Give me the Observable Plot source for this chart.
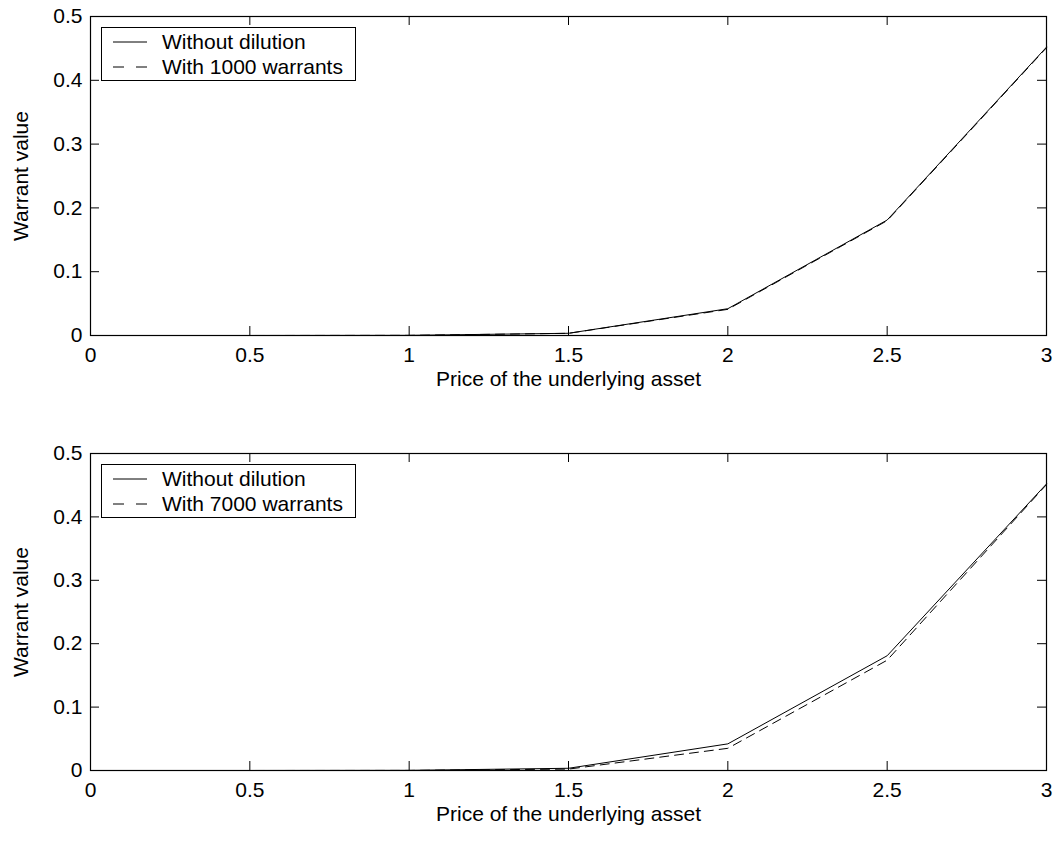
<!DOCTYPE html>
<html>
<head>
<meta charset="utf-8">
<script src="https://cdn.jsdelivr.net/npm/d3@7"></script>
<script src="https://cdn.jsdelivr.net/npm/@observablehq/plot@0.6"></script>
<style>
  html, body { margin: 0; padding: 0; background: #fff; }
  .panel { position: relative; width: 1056px; height: 423px; }
  .legend { position: absolute; left: 0; top: 0; pointer-events: none; }
  svg { font-family: "Liberation Sans", Arial, Helvetica, sans-serif; }
</style>
</head>
<body>
<div id="top" class="panel"></div>
<div id="bottom" class="panel"></div>
<script>
// ---- data ----
const price = [0, 0.5, 1, 1.5, 2, 2.5, 3];
const withoutDilution = [0, 0, 0.0002, 0.0035, 0.042, 0.181, 0.452];
const with1000 = [0, 0, 0.0002, 0.0034, 0.041, 0.180, 0.451];
const with7000 = [0, 0, 0.0001, 0.0022, 0.035, 0.174, 0.451];
const xTicks = [0, 0.5, 1, 1.5, 2, 2.5, 3];
const yTicks = [0, 0.1, 0.2, 0.3, 0.4, 0.5];
const xLabel = "Price of the underlying asset";
const yLabel = "Warrant value";
const legendTop = ["Without dilution", "With 1000 warrants"];
const legendBottom = ["Without dilution", "With 7000 warrants"];

const W = 1056, H = 423, ML = 90, MR = 10;
const DASH = "9,6";
const FS = 21;

function toRows(ys) { return price.map((x, i) => ({x, y: ys[i]})); }

function panel(el, dashedSeries, labels, mt, mb) {
  const pw = W - ML - MR, ph = H - mt - mb, tl = 9;
  const chart = Plot.plot({
    width: W, height: H,
    marginLeft: ML, marginRight: MR, marginTop: mt, marginBottom: mb,
    style: {fontSize: FS + "px", fontFamily: '"Liberation Sans", Arial, sans-serif', color: "black", background: "white"},
    x: {domain: [0, 3]},
    y: {domain: [0, 0.5]},
    marks: [
      Plot.line(toRows(withoutDilution), {x: "x", y: "y", stroke: "black", strokeWidth: 1}),
      Plot.line(toRows(dashedSeries), {x: "x", y: "y", stroke: "black", strokeWidth: 1, strokeDasharray: DASH}),
      Plot.tickX(xTicks, {x: d => d, insetTop: ph - tl, stroke: "black", strokeWidth: 1}),
      Plot.tickX(xTicks, {x: d => d, insetBottom: ph - tl, stroke: "black", strokeWidth: 1}),
      Plot.tickY(yTicks, {y: d => d, insetRight: pw - tl, stroke: "black", strokeWidth: 1}),
      Plot.tickY(yTicks, {y: d => d, insetLeft: pw - tl, stroke: "black", strokeWidth: 1}),
      Plot.frame({stroke: "black", strokeWidth: 1.2}),
      Plot.axisX({ticks: xTicks, tickSize: 0, tickPadding: 12, tickFormat: d => String(d),
        label: xLabel, labelAnchor: "center", labelArrow: "none", labelOffset: 50}),
      Plot.axisY({ticks: yTicks, tickSize: 0, tickPadding: 8, tickFormat: d => String(d),
        label: yLabel, labelAnchor: "center", labelArrow: "none", labelOffset: 77})
    ]
  });
  const div = document.getElementById(el);
  div.appendChild(chart);

  // legend overlay (inside plot frame, upper left)
  const ns = "http://www.w3.org/2000/svg";
  const lg = document.createElementNS(ns, "svg");
  lg.setAttribute("class", "legend");
  lg.setAttribute("width", W); lg.setAttribute("height", H);
  const bx = 101, by = mt + 11, bw = 254, bh = 53;
  const rect = document.createElementNS(ns, "rect");
  Object.entries({x: bx + 0.5, y: by + 0.5, width: bw, height: bh, fill: "white", stroke: "black", "stroke-width": 1})
    .forEach(([k, v]) => rect.setAttribute(k, v));
  lg.appendChild(rect);
  labels.forEach((t, i) => {
    const ly = by + 15 + i * 25;
    const line = document.createElementNS(ns, "line");
    Object.entries({x1: 113, x2: 147, y1: ly, y2: ly, stroke: "black", "stroke-width": 1})
      .forEach(([k, v]) => line.setAttribute(k, v));
    if (i === 1) line.setAttribute("stroke-dasharray", "11,12");
    lg.appendChild(line);
    const tx = document.createElementNS(ns, "text");
    tx.setAttribute("x", 162); tx.setAttribute("y", ly + 7);
    tx.setAttribute("font-size", FS);
    tx.setAttribute("font-family", '"Liberation Sans", Arial, sans-serif');
    tx.textContent = t;
    lg.appendChild(tx);
  });
  div.appendChild(lg);
}

panel("top", with1000, legendTop, 16, 88);
panel("bottom", with7000, legendBottom, 30, 76);
</script>
</body>
</html>
